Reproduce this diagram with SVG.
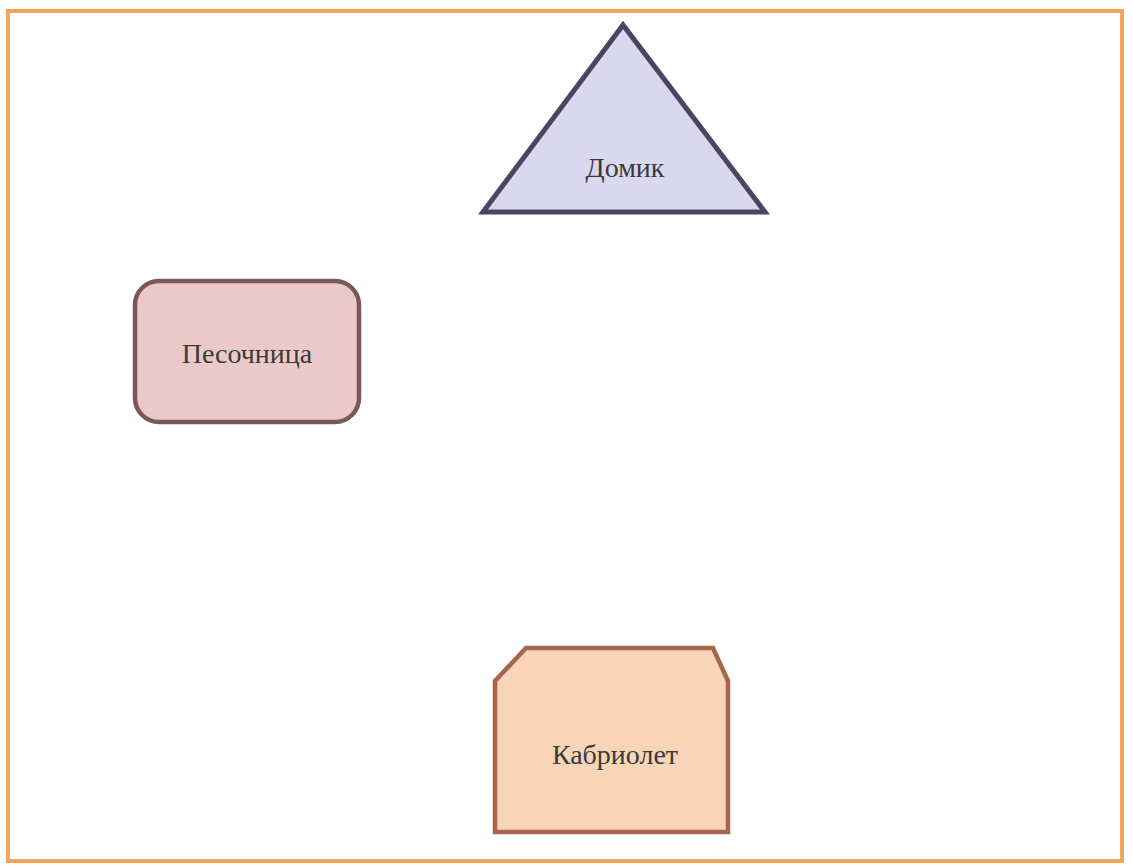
<svg xmlns="http://www.w3.org/2000/svg" width="1133" height="865" viewBox="0 0 1133 865">
<style>
.lbl{font-family:"Liberation Serif","Times New Roman",serif;font-size:28px;fill:#3a3a3a;text-anchor:middle}
</style>
<rect x="0" y="0" width="1133" height="865" fill="#ffffff"/>
<rect id="frame" x="8" y="11" width="1114" height="850" fill="none" stroke="#f3a55c" stroke-width="4"/>
<g id="domik">
<polygon points="623,25 483,212 765,212" fill="#d9d8ef" stroke="#4a4562" stroke-width="5" stroke-linejoin="miter"/>
<text class="lbl" x="625" y="177">Домик</text>
</g>
<g id="pesochnitsa">
<rect x="135" y="281" width="224" height="141" rx="24" ry="24" fill="#ecc9c9" stroke="#7a5858" stroke-width="4.5"/>
<text class="lbl" x="247" y="363">Песочница</text>
</g>
<g id="kabriolet">
<polygon points="526,648 713,648 728,681 728,832 495,832 495,681" fill="#f8d5b8" stroke="#a6654c" stroke-width="4.5"/>
<text class="lbl" x="615" y="764">Кабриолет</text>
</g>
<g id="connectors"></g>
</svg>
